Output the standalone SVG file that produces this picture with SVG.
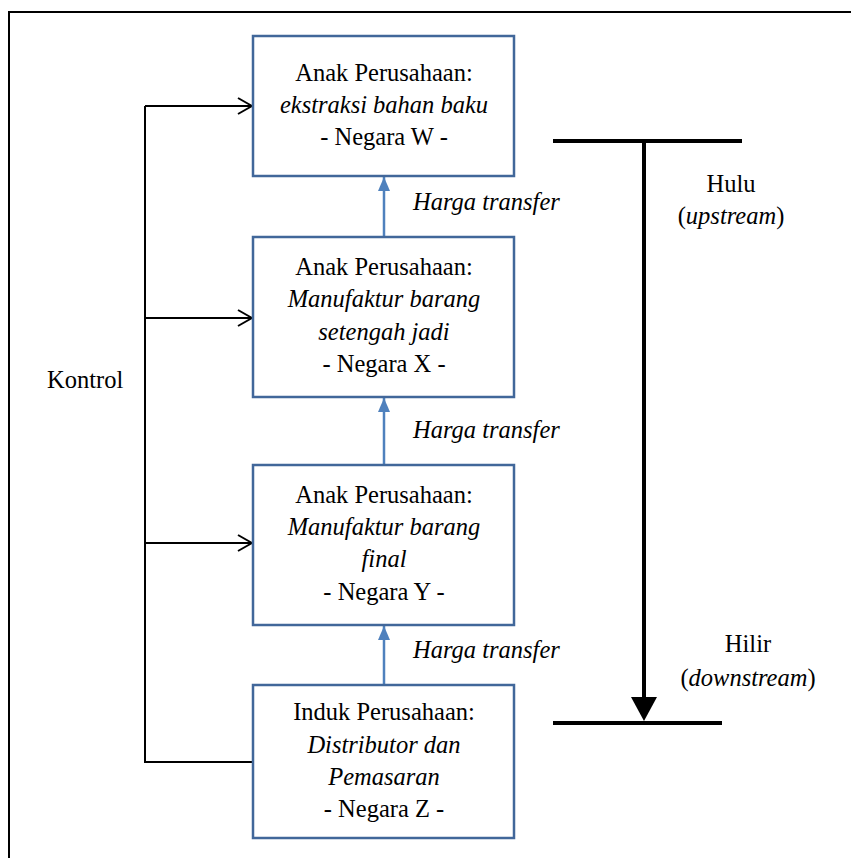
<svg xmlns="http://www.w3.org/2000/svg" width="851" height="858" viewBox="0 0 851 858">
  <style>
    text { font-family: "Liberation Serif", "DejaVu Serif", serif; font-size: 24.5px; fill: #000; }
    .it { font-style: italic; }
    .mid { text-anchor: middle; }
    .box { fill: #fff; stroke: #41679a; stroke-width: 2.5; }
    .flow { stroke: #4f81bd; stroke-width: 2.5; fill: none; }
    .ctrl { stroke: #000; stroke-width: 2; fill: none; }
    .axis { stroke: #000; stroke-width: 4; fill: none; }
  </style>
  <defs>
    <marker id="tri" viewBox="0 0 14 12" refX="14" refY="6" markerWidth="14" markerHeight="12" markerUnits="userSpaceOnUse" orient="auto">
      <path d="M0,0 L14,6 L0,12 Z" fill="#4f81bd"/>
    </marker>
    <marker id="open" viewBox="0 0 16 20" refX="15" refY="10" markerWidth="16" markerHeight="20" markerUnits="userSpaceOnUse" orient="auto">
      <path d="M1,2 L15,10 L1,18" fill="none" stroke="#000" stroke-width="2"/>
    </marker>
  </defs>

  <!-- page frame (top and left edges) -->
  <path d="M9,858 L9,12 L851,12" fill="none" stroke="#000" stroke-width="2"/>

  <!-- connectors -->
  <g id="connectors">
    <!-- control bus -->
    <path class="ctrl" d="M253,762 L145,762 L145,106"/>
    <path class="ctrl" d="M145,106 L252,106" marker-end="url(#open)"/>
    <path class="ctrl" d="M145,318 L252,318" marker-end="url(#open)"/>
    <path class="ctrl" d="M145,543 L252,543" marker-end="url(#open)"/>
    <!-- transfer price flows -->
    <path class="flow" d="M384,237 L384,177" marker-end="url(#tri)"/>
    <path class="flow" d="M384,465 L384,398" marker-end="url(#tri)"/>
    <path class="flow" d="M384,685 L384,626" marker-end="url(#tri)"/>
    <!-- upstream / downstream axis -->
    <path class="axis" d="M553,141 L742,141"/>
    <path class="axis" d="M553,723 L722,723"/>
    <path class="axis" d="M644,141 L644,700"/>
    <path d="M631,697 L657,697 L644,721 Z" fill="#000"/>
  </g>

  <g id="node-w">
    <rect class="box" x="253" y="36" width="261" height="140"/>
    <text class="mid" x="384" y="81">Anak Perusahaan:</text>
    <text class="mid it" x="384" y="113">ekstraksi bahan baku</text>
    <text class="mid" x="384" y="145">- Negara W -</text>
  </g>

  <g id="node-x">
    <rect class="box" x="253" y="237" width="261" height="160"/>
    <text class="mid" x="384" y="275">Anak Perusahaan:</text>
    <text class="mid it" x="384" y="307">Manufaktur barang</text>
    <text class="mid it" x="384" y="340">setengah jadi</text>
    <text class="mid" x="384" y="372">- Negara X -</text>
  </g>

  <g id="node-y">
    <rect class="box" x="253" y="465" width="261" height="160"/>
    <text class="mid" x="384" y="503">Anak Perusahaan:</text>
    <text class="mid it" x="384" y="535">Manufaktur barang</text>
    <text class="mid it" x="384" y="567">final</text>
    <text class="mid" x="384" y="600">- Negara Y -</text>
  </g>

  <g id="node-z">
    <rect class="box" x="253" y="685" width="261" height="153"/>
    <text class="mid" x="384" y="720">Induk Perusahaan:</text>
    <text class="mid it" x="384" y="753">Distributor dan</text>
    <text class="mid it" x="384" y="785">Pemasaran</text>
    <text class="mid" x="384" y="817">- Negara Z -</text>
  </g>

  <g id="labels">
    <text class="it" x="413" y="210">Harga transfer</text>
    <text class="it" x="413" y="438">Harga transfer</text>
    <text class="it" x="413" y="658">Harga transfer</text>
    <text x="47" y="388">Kontrol</text>
    <text class="mid" x="731" y="192">Hulu</text>
    <text class="mid" x="731" y="224">(<tspan class="it">upstream</tspan>)</text>
    <text class="mid" x="748" y="652">Hilir</text>
    <text class="mid" x="748" y="686">(<tspan class="it">downstream</tspan>)</text>
  </g>
</svg>
